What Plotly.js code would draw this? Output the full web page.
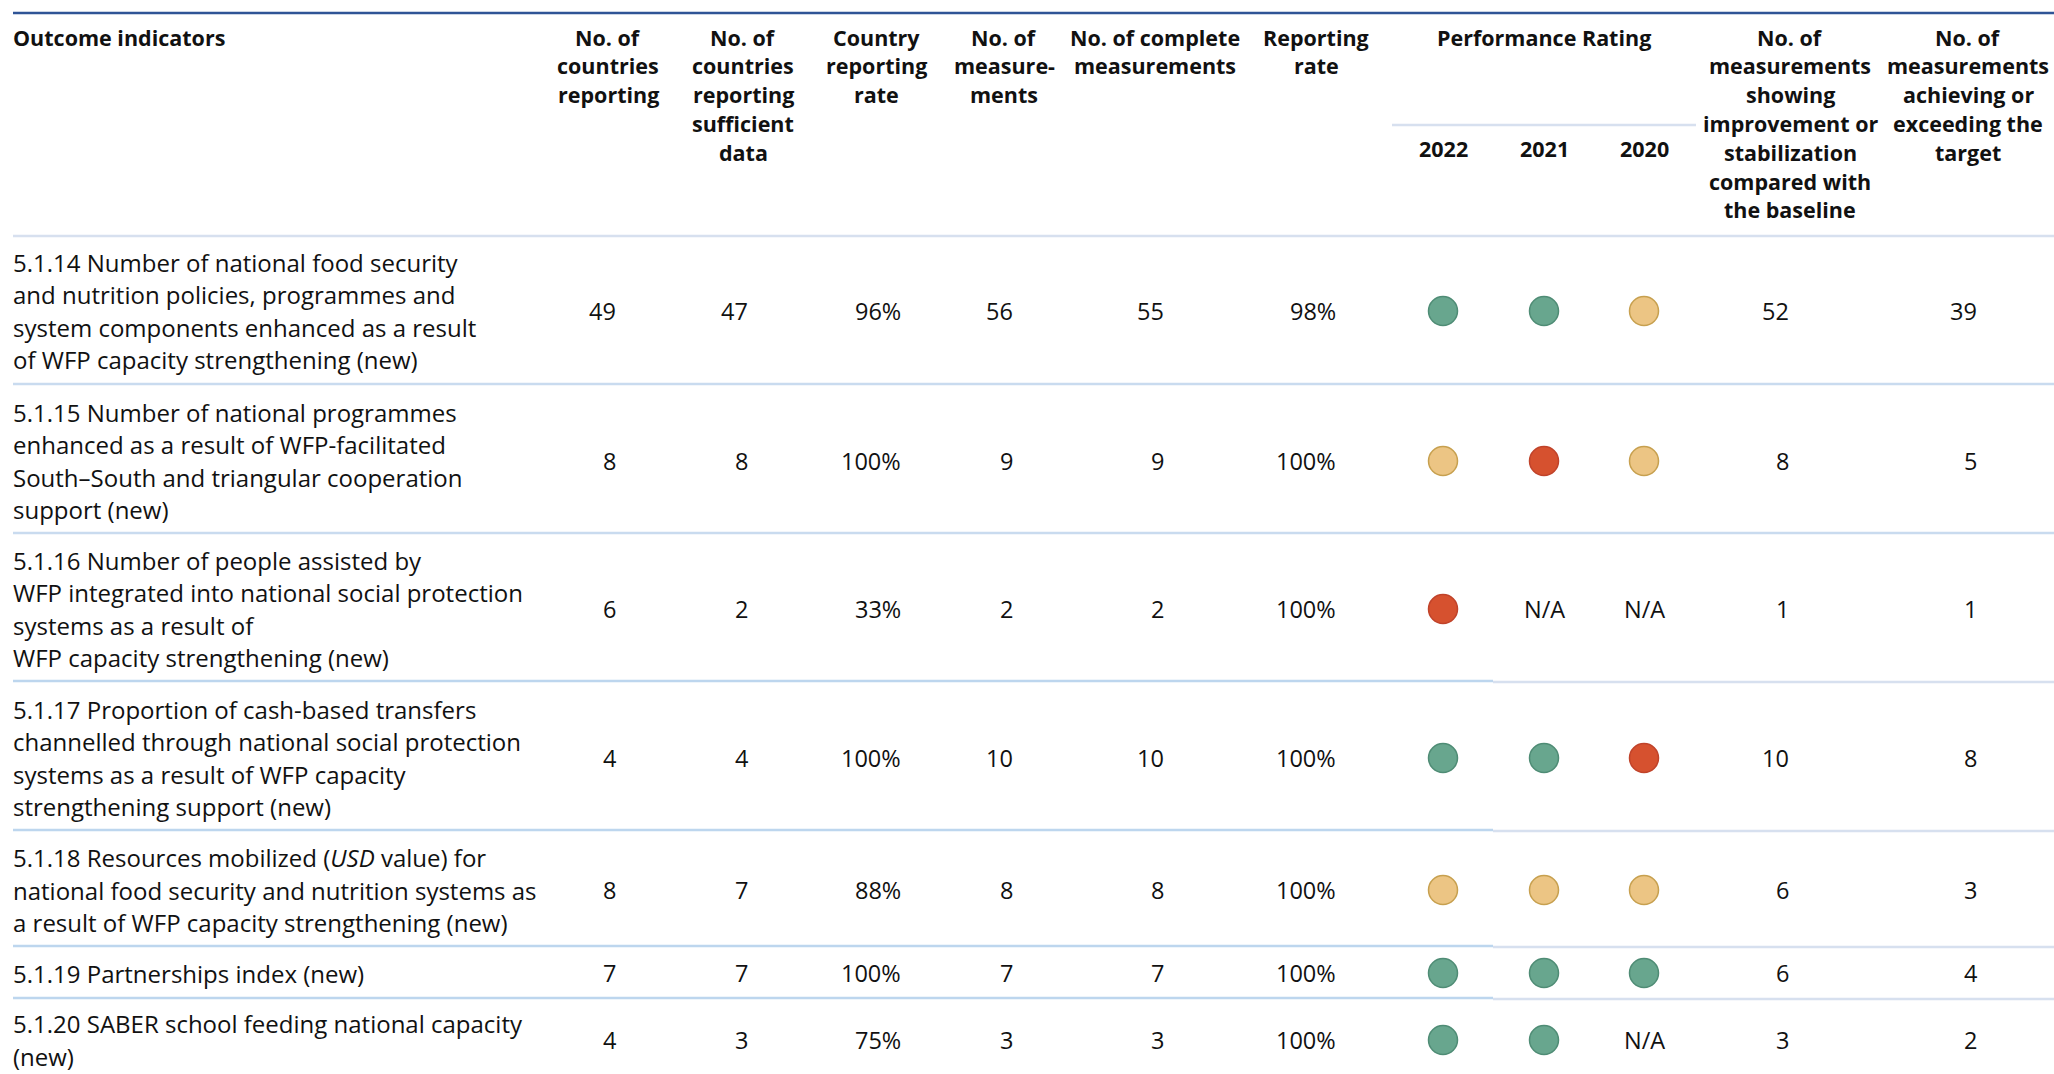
<!DOCTYPE html>
<html><head><meta charset="utf-8">
<script src="https://cdn.plot.ly/plotly-3.0.1.min.js"></script>
<style>html,body{margin:0;padding:0;background:#fff;overflow:hidden}#chart{width:2054px;height:1074px}</style>
</head><body><div id="chart"></div>
<script>
// ---------------- DATA ----------------
const indicators = [
  "5.1.14 Number of national food security\nand nutrition policies, programmes and\nsystem components enhanced as a result\nof WFP capacity strengthening (new)",
  "5.1.15 Number of national programmes\nenhanced as a result of WFP-facilitated\nSouth–South and triangular cooperation\nsupport (new)",
  "5.1.16 Number of people assisted by\nWFP integrated into national social protection\nsystems as a result of\nWFP capacity strengthening (new)",
  "5.1.17 Proportion of cash-based transfers\nchannelled through national social protection\nsystems as a result of WFP capacity\nstrengthening support (new)",
  "5.1.18 Resources mobilized (<i>USD</i> value) for\nnational food security and nutrition systems as\na result of WFP capacity strengthening (new)",
  "5.1.19 Partnerships index (new)",
  "5.1.20 SABER school feeding national capacity\n(new)"
];
const countriesReporting   = ["49", "8", "6", "4", "8", "7", "4"];
const countriesSufficient  = ["47", "8", "2", "4", "7", "7", "3"];
const countryReportingRate = ["96%", "100%", "33%", "100%", "88%", "100%", "75%"];
const measurements         = ["56", "9", "2", "10", "8", "7", "3"];
const completeMeasurements = ["55", "9", "2", "10", "8", "7", "3"];
const reportingRate        = ["98%", "100%", "100%", "100%", "100%", "100%", "100%"];
const improvedMeasurements = ["52", "8", "1", "10", "6", "6", "3"];
const targetMeasurements   = ["39", "5", "1", "8", "3", "4", "2"];
const years = ["2022", "2021", "2020"];
const rating2022 = ["green", "amber", "red", "green", "amber", "green", "green"];
const rating2021 = ["green", "red", "N/A", "green", "amber", "green", "green"];
const rating2020 = ["amber", "amber", "N/A", "red", "amber", "green", "N/A"];
const firstHeader = "Outcome indicators";
const groupHeader = "Performance Rating";
const headersLeft = [
  "No. of\ncountries\nreporting",
  "No. of\ncountries\nreporting\nsufficient\ndata",
  "Country\nreporting\nrate",
  "No. of\nmeasure-\nments",
  "No. of complete\nmeasurements",
  "Reporting\nrate"
];
const headersRight = [
  "No. of\nmeasurements\nshowing\nimprovement or\nstabilization\ncompared with\nthe baseline",
  "No. of\nmeasurements\nachieving or\nexceeding the\ntarget"
];

// ---------------- LAYOUT / STYLE ----------------
const W = 2054, H = 1074;
const FONT = "'Open Sans', 'Noto Sans', sans-serif";
const TXT = "#111111";
const BODY = 23.5, LABEL = 24, HEAD = 21.5;
const rowCenter = [311, 461, 609, 758, 890, 973, 1040];
const rowLines = [384, 533, 681, 830, 946, 998];
const bodyLineGap = 32.6, headLineGap = 28.8;
const leftRight = [616, 748, 901, 1013, 1164, 1336];
const leftHeadX = [608, 743, 876, 1004, 1155, 1316];
const rightRight = [1789, 1977];
const rightHeadX = [1790, 1968];
const yearX = [1443, 1544, 1644];
const headTop = 37, yearY = 148;
const ratingStyle = {
  green: {fill: "#68a68e", line: "#4f8c75"},
  amber: {fill: "#ecc584", line: "#c7a04f"},
  red:   {fill: "#d6512f", line: "#c0432a"}
};

const annotations = [];
function addText(text, x, y, opts) {
  annotations.push(Object.assign({
    text: text, x: x, y: y, xref: "x", yref: "y", showarrow: false,
    xanchor: "center", yanchor: "middle", borderpad: 0, borderwidth: 0,
    font: {family: FONT, size: BODY, color: TXT}
  }, opts || {}));
}
function addLines(str, x, yFirst, gap, opts) {
  str.split("\n").forEach((ln, i) => addText(ln, x, yFirst + i * gap, opts));
}
const headFont = {family: FONT, size: HEAD, color: TXT, weight: 700};
const labelFont = {family: FONT, size: LABEL, color: TXT};

// headers
addText(firstHeader, 13, headTop, {xanchor: "left", font: headFont});
headersLeft.forEach((h, i) => addLines(h, leftHeadX[i], headTop, headLineGap, {font: headFont}));
headersRight.forEach((h, i) => addLines(h, rightHeadX[i], headTop, headLineGap, {font: headFont}));
addText(groupHeader, yearX[1], headTop, {font: headFont});
years.forEach((yr, i) => addText(yr, yearX[i], yearY, {font: headFont}));

// body text
indicators.forEach((lab, r) => {
  const lines = lab.split("\n");
  const y0 = rowCenter[r] - (lines.length - 1) / 2 * bodyLineGap;
  lines.forEach((ln, k) => addText(ln, 13, y0 + k * bodyLineGap, {xanchor: "left", font: labelFont}));
});
const leftCols = [countriesReporting, countriesSufficient, countryReportingRate, measurements, completeMeasurements, reportingRate];
leftCols.forEach((col, c) => col.forEach((v, r) => addText(v, leftRight[c], rowCenter[r], {xanchor: "right"})));
[improvedMeasurements, targetMeasurements].forEach((col, c) => col.forEach((v, r) => addText(v, rightRight[c], rowCenter[r], {xanchor: "right"})));

// rating circles
const traces = [];
[rating2022, rating2021, rating2020].forEach((ratings, yi) => {
  ["green", "amber", "red"].forEach(key => {
    const xs = [], ys = [];
    ratings.forEach((v, r) => { if (v === key) { xs.push(yearX[yi]); ys.push(rowCenter[r]); } });
    if (xs.length) traces.push({
      type: "scatter", mode: "markers", x: xs, y: ys, hoverinfo: "skip", showlegend: false,
      marker: {size: 29, color: ratingStyle[key].fill, line: {color: ratingStyle[key].line, width: 1.5}}
    });
  });
  ratings.forEach((v, r) => { if (v === "N/A") addText(v, yearX[yi], rowCenter[r]); });
});

// rules
const shapes = [];
function hline(y, x0, x1, color, w) {
  shapes.push({type: "line", xref: "x", yref: "y", x0: x0, x1: x1, y0: y, y1: y, line: {color: color, width: w}, layer: "below"});
}
hline(13, 13, W, "#2f5496", 2.5);
hline(236, 13, W, "#d7e0ef", 2.5);
hline(125, 1392, 1696, "#d7e0ef", 2.5);
rowLines.forEach((y, i) => {
  if (i < 2) { hline(y, 13, W, "#c9dbef", 2.5); }
  else { hline(y, 13, 1493, "#bdd6ee", 2.5); hline(y + 1, 1493, W, "#d7e0ef", 2.5); }
});

const layout = {
  width: W, height: H, margin: {l: 0, r: 0, t: 0, b: 0},
  paper_bgcolor: "#ffffff", plot_bgcolor: "#ffffff",
  xaxis: {range: [0, W], visible: false, fixedrange: true},
  yaxis: {range: [H, 0], visible: false, fixedrange: true},
  annotations: annotations, shapes: shapes, showlegend: false,
  font: {family: FONT, color: TXT}
};
Plotly.newPlot("chart", traces, layout, {staticPlot: true, displayModeBar: false});
</script>
</body></html>
